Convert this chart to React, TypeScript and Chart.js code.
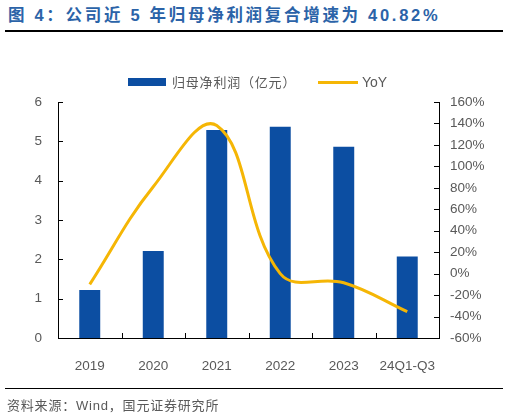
import React, { useEffect, useRef } from "react";
import { Chart, registerables } from "chart.js";

Chart.register(...registerables);

const categories = ["2019", "2020", "2021", "2022", "2023", "24Q1-Q3"];
const netProfit = [1.22, 2.21, 5.29, 5.37, 4.86, 2.07];
const yoy = [-10, 81, 138, 0, -8.5, -35.5];
const leftTicks = [0, 1, 2, 3, 4, 5, 6];
const rightTicks = [-60, -40, -20, 0, 20, 40, 60, 80, 100, 120, 140, 160];

const BLUE = "#0c4ea2";
const YELLOW = "#f5b605";
const GRAY = "#595959";
const FONT = "'Liberation Sans', Arial, sans-serif";
const MIXED = "'Liberation Sans', 'Noto Sans CJK SC', sans-serif";
const CJK = "'Noto Sans CJK SC', 'Liberation Sans', sans-serif";

const innerTicks = {
  id: "innerTicks",
  afterDatasetsDraw(chart: any) {
    const ctx = chart.ctx;
    const { left, right, bottom } = chart.chartArea;
    const y = chart.scales.y;
    const y1 = chart.scales.y1;
    const x = chart.scales.x;
    ctx.save();
    ctx.strokeStyle = "#000";
    ctx.lineWidth = 1;
    ctx.beginPath();
    leftTicks.forEach((v) => {
      const p = Math.round(y.getPixelForValue(v)) + 0.5;
      ctx.moveTo(left, p);
      ctx.lineTo(left + 5, p);
    });
    rightTicks.forEach((v) => {
      const p = Math.round(y1.getPixelForValue(v)) + 0.5;
      ctx.moveTo(right - 5, p);
      ctx.lineTo(right, p);
    });
    const step = (right - left) / categories.length;
    for (let i = 1; i < categories.length; i++) {
      const px = Math.round(x.getPixelForValue(i) - step / 2) + 0.5;
      ctx.moveTo(px, bottom);
      ctx.lineTo(px, bottom - 5);
    }
    ctx.stroke();
    ctx.restore();
  },
};

export default function App() {
  const ref = useRef<HTMLCanvasElement | null>(null);

  useEffect(() => {
    document.body.style.margin = "0";
    const canvas = ref.current!;
    const chart = new Chart(canvas, {
      type: "bar",
      data: {
        labels: categories,
        datasets: [
          {
            type: "line",
            label: "YoY",
            data: yoy,
            yAxisID: "y1",
            borderColor: YELLOW,
            backgroundColor: YELLOW,
            borderWidth: 3,
            pointRadius: 0,
            tension: 0.4,
            order: 0,
          } as any,
          {
            type: "bar",
            label: "归母净利润（亿元）",
            data: netProfit,
            yAxisID: "y",
            backgroundColor: BLUE,
            barPercentage: 0.33,
            categoryPercentage: 1,
            order: 1,
          },
        ],
      },
      plugins: [innerTicks],
      options: {
        animation: false,
        responsive: false,
        maintainAspectRatio: false,
        layout: { padding: { top: 102, bottom: 35, left: 0, right: 0 } },
        plugins: {
          legend: { display: false },
          tooltip: { enabled: false },
        },
        scales: {
          x: {
            type: "category",
            offset: true,
            grid: { display: false, drawTicks: false },
            border: { display: true, color: "#000", width: 1 },
            ticks: { color: GRAY, font: { family: FONT, size: 13.5 }, padding: 20, maxRotation: 0 },
            afterFit: (s: any) => { s.height = 45; },
          },
          y: {
            position: "left",
            min: 0,
            max: 6,
            ticks: { stepSize: 1, color: GRAY, font: { family: FONT, size: 13.5 }, padding: 16 },
            grid: { display: false, drawTicks: false },
            border: { display: true, color: "#000", width: 1 },
            afterFit: (s: any) => { s.width = 58; },
          },
          y1: {
            position: "right",
            min: -60,
            max: 160,
            ticks: {
              stepSize: 20,
              color: GRAY,
              font: { family: FONT, size: 13.5 },
              padding: 11,
              callback: (v: any) => `${v}%`,
            },
            grid: { display: false, drawTicks: false },
            border: { display: true, color: "#000", width: 1 },
            afterFit: (s: any) => { s.width = 70; },
          },
        },
      },
    });
    return () => chart.destroy();
  }, []);

  return (
    <div style={{ position: "fixed", left: 0, top: 0, width: 509, height: 418, background: "#fff", overflow: "hidden" }}>
      <div
        style={{
          position: "absolute",
          left: 8,
          top: 4,
          fontFamily: MIXED,
          fontWeight: 700,
          fontSize: 16.5,
          letterSpacing: 2.7,
          color: "#2b63a8",
          whiteSpace: "nowrap",
          lineHeight: "22px",
        }}
      >
        图 4：公司近 5 年归母净利润复合增速为 40.82%
      </div>
      <div style={{ position: "absolute", left: 5, top: 30, width: 498, height: 2, background: "#000" }} />
      <canvas ref={ref} width={509} height={418} style={{ position: "absolute", left: 0, top: 0, width: 509, height: 418 }} />
      <div style={{ position: "absolute", left: 128, top: 78, width: 38, height: 8, background: BLUE }} />
      <div
        style={{
          position: "absolute",
          left: 172,
          top: 73,
          fontFamily: CJK,
          fontSize: 13,
          letterSpacing: 0.8,
          color: GRAY,
          whiteSpace: "nowrap",
          lineHeight: "18px",
        }}
      >
        归母净利润（亿元）
      </div>
      <div style={{ position: "absolute", left: 318, top: 81, width: 40, height: 3, background: YELLOW }} />
      <div
        style={{
          position: "absolute",
          left: 362,
          top: 73,
          fontFamily: FONT,
          fontSize: 14,
          color: GRAY,
          whiteSpace: "nowrap",
          lineHeight: "18px",
        }}
      >
        YoY
      </div>
      <div style={{ position: "absolute", left: 5, top: 388, width: 498, height: 1, background: "#000" }} />
      <div
        style={{
          position: "absolute",
          left: 7,
          top: 397,
          fontFamily: MIXED,
          fontSize: 13,
          letterSpacing: 0.8,
          color: GRAY,
          whiteSpace: "nowrap",
          lineHeight: "18px",
        }}
      >
        资料来源：Wind，国元证券研究所
      </div>
    </div>
  );
}
